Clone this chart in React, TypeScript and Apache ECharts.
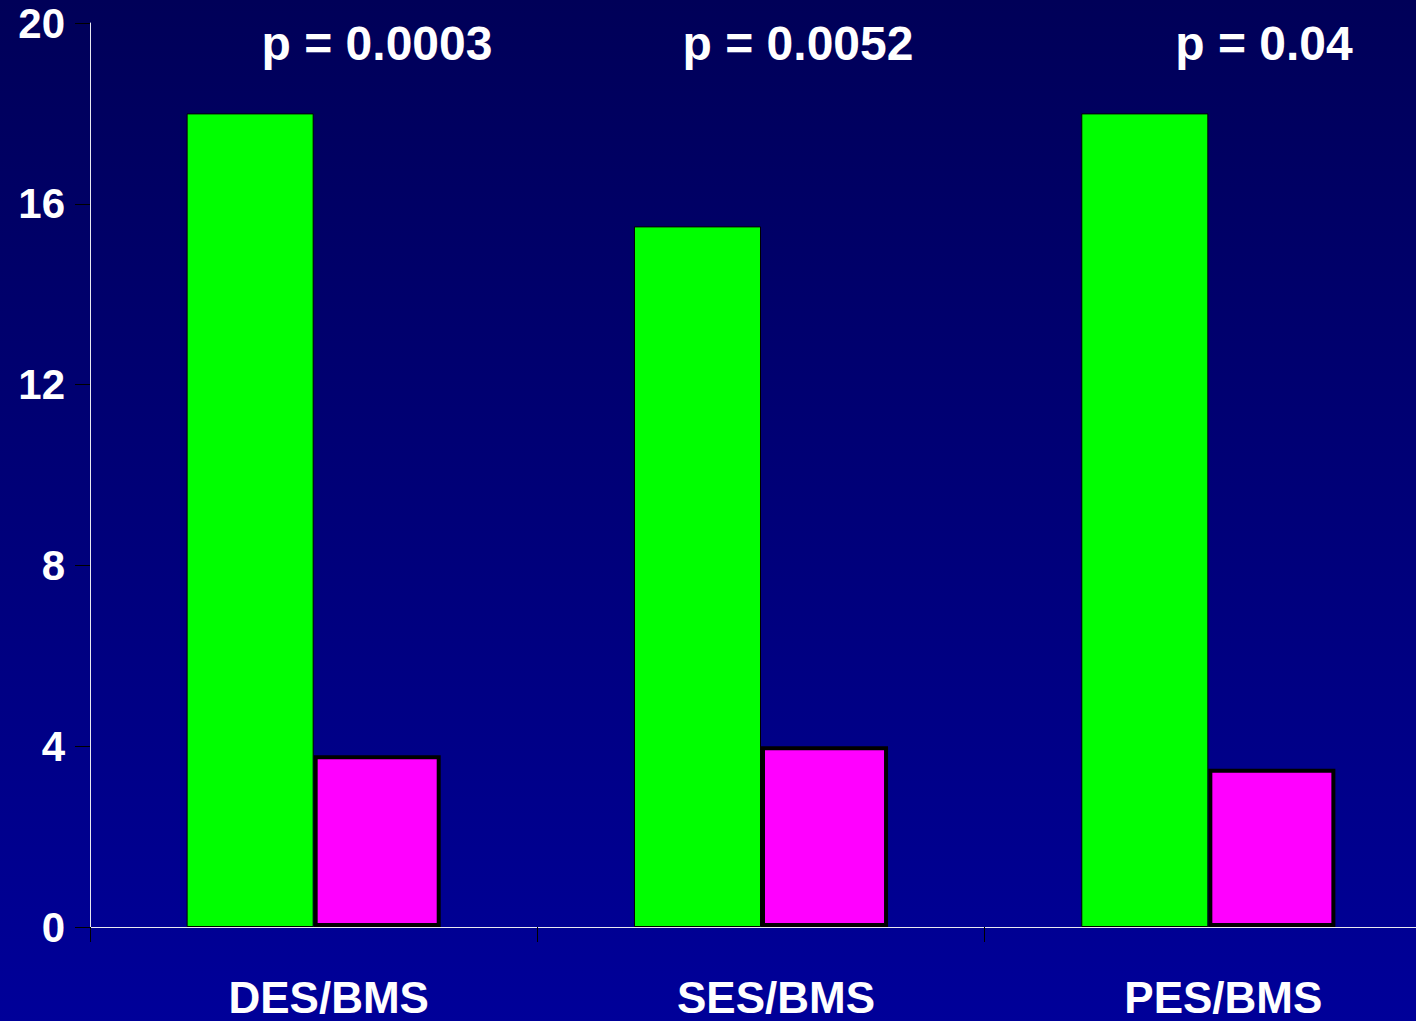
import React, { useEffect, useRef } from "react";
import * as echarts from "echarts";

const categories = ["DES/BMS", "SES/BMS", "PES/BMS"];
const desValues = [18, 15.5, 18];
const bmsValues = [3.8, 4.0, 3.5];
const pLabels = ["p = 0.0003", "p = 0.0052", "p = 0.04"];
const pLabelX = [377, 798, 1264];
const yMin = 0;
const yMax = 20;
const yInterval = 4;

const FONT = "'Liberation Sans', Arial, Helvetica, sans-serif";

export default function App() {
  const ref = useRef<HTMLDivElement>(null);
  useEffect(() => {
    const chart = echarts.init(ref.current!, null, { renderer: "svg" });
    chart.setOption({
      animation: false,
      backgroundColor: {
        type: "linear",
        x: 0,
        y: 0,
        x2: 0,
        y2: 1,
        colorStops: [
          { offset: 0, color: "#000058" },
          { offset: 1, color: "#000099" },
        ],
      },
      grid: {
        left: 90,
        top: 23,
        bottom: 94,
        right: -16,
        containLabel: false,
        outerBoundsMode: "none",
      },
      xAxis: {
        type: "category",
        data: categories,
        axisLine: { show: true, lineStyle: { color: "#e8e8f0", width: 1 } },
        axisTick: { show: true, length: 15, lineStyle: { color: "#000000", width: 1 } },
        axisLabel: {
          color: "#ffffff",
          fontFamily: FONT,
          fontWeight: "bold",
          fontSize: 44,
          lineHeight: 30,
          margin: 55,
          padding: [0, 0, 0, 30],
        },
        splitLine: { show: false },
      },
      yAxis: {
        type: "value",
        min: yMin,
        max: yMax,
        interval: yInterval,
        axisLine: { show: true, lineStyle: { color: "#e8e8f0", width: 1 } },
        axisTick: { show: true, length: 15, lineStyle: { color: "#000000", width: 1 } },
        axisLabel: {
          color: "#ffffff",
          fontFamily: FONT,
          fontWeight: "bold",
          fontSize: 42,
          margin: 25,
        },
        splitLine: { show: false },
      },
      series: [
        {
          type: "bar",
          name: "DES",
          data: desValues,
          barWidth: "28.4%",
          barGap: "0%",
          itemStyle: { color: "#00ff00", borderColor: "#000000", borderWidth: 1 },
        },
        {
          type: "bar",
          name: "BMS",
          data: bmsValues,
          barWidth: "28.4%",
          barGap: "0%",
          itemStyle: { color: "#ff00ff", borderColor: "#000000", borderWidth: 4 },
        },
      ],
      graphic: pLabels.map((t, i) => ({
        type: "text",
        x: pLabelX[i],
        y: 43,
        style: {
          text: t,
          fill: "#ffffff",
          font: `bold 48px ${FONT}`,
          textAlign: "center",
          textVerticalAlign: "middle",
        },
      })),
    });
    return () => chart.dispose();
  }, []);
  return (
    <div
      ref={ref}
      style={{ position: "absolute", left: 0, top: 0, width: 1416, height: 1021 }}
    />
  );
}
